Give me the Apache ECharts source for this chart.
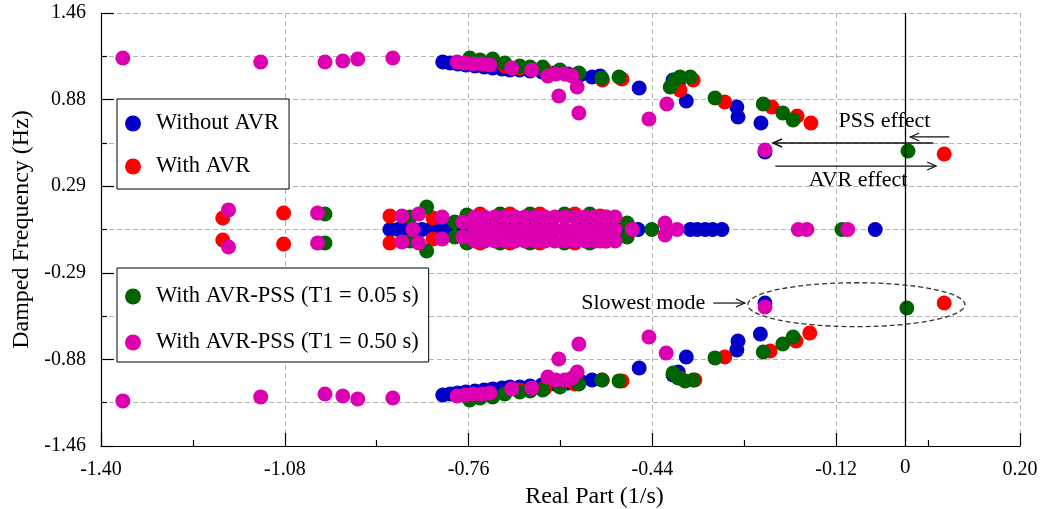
<!DOCTYPE html>
<html>
<head>
<meta charset="utf-8">
<script src="https://cdn.jsdelivr.net/npm/echarts@6/dist/echarts.min.js"></script>
<style>
  html, body { margin: 0; padding: 0; background: #fff; }
  #chart { width: 1043px; height: 509px; }
</style>
</head>
<body>
<div id="chart"></div>
<script>
// Eigenvalues: [real part (1/s), damped frequency (Hz)]

// Without AVR
const noAvrUpper = [
  [-0.805,1.130],[-0.792,1.123],[-0.779,1.116],[-0.765,1.109],[-0.749,1.103],[-0.733,1.096],
  [-0.718,1.089],[-0.702,1.082],[-0.688,1.076],[-0.671,1.076],[-0.653,1.069],[-0.632,1.062],
  [-0.610,1.055],[-0.587,1.049],[-0.566,1.042],[-0.545,1.028],[-0.531,1.035],[-0.463,0.954],
  [-0.404,1.008],[-0.395,0.981],[-0.381,0.867],[-0.293,0.826],[-0.291,0.759],[-0.251,0.718],
  [-0.244,0.523]
];
const noAvrReal = [
  [-0.897,0],[-0.883,0],[-0.869,0],[-0.855,0],[-0.841,0],[-0.827,0],[-0.813,0],[-0.798,0],
  [-0.784,0],[-0.770,0],[-0.758,0],[-0.740,0],[-0.723,0],[-0.705,0],[-0.688,0],[-0.671,0],
  [-0.653,0],[-0.636,0],[-0.615,0],[-0.593,0],[-0.570,0],[-0.549,0],[-0.531,0],[-0.514,0],
  [-0.497,0],[-0.465,0],[-0.374,0],[-0.362,0],[-0.348,0],[-0.335,0],[-0.319,0],[-0.052,0]
];
const noAvrLower = [
  [-0.805,-1.116],[-0.792,-1.109],[-0.779,-1.102],[-0.765,-1.096],[-0.749,-1.089],[-0.733,-1.082],
  [-0.718,-1.075],[-0.702,-1.069],[-0.688,-1.062],[-0.671,-1.062],[-0.653,-1.055],[-0.632,-1.048],
  [-0.610,-1.042],[-0.587,-1.035],[-0.566,-1.021],[-0.545,-1.015],[-0.463,-0.934],[-0.404,-0.981],
  [-0.395,-0.961],[-0.381,-0.860],[-0.293,-0.812],[-0.291,-0.752],[-0.252,-0.705],[-0.244,-0.496]
];

// With AVR
const avrUpper = [
  [-0.723,1.116],[-0.697,1.103],[-0.671,1.089],[-0.627,1.076],[-0.575,1.042],[-0.527,1.008],
  [-0.493,1.015],[-0.392,0.941],[-0.369,1.008],[-0.314,0.860],[-0.232,0.826],[-0.188,0.765],
  [-0.164,0.718],[0.068,0.509]
];
const avrReal = [
  [-1.188,0.078],[-1.188,-0.071],[-1.082,0.111],[-1.082,-0.098],[-0.897,0.091],[-0.897,-0.091],
  [-0.822,0.078],[-0.822,-0.064],[-0.740,0.105],[-0.740,-0.091],[-0.688,0.105],[-0.688,-0.091],
  [-0.636,0.105],[-0.636,-0.091],[-0.575,0.105],[-0.575,-0.091],[-0.531,0.091],[-0.531,-0.078]
];
const avrLower = [
  [-0.671,-1.082],[-0.627,-1.069],[-0.575,-1.042],[-0.527,-1.015],[-0.493,-1.021],[-0.392,-1.001],
  [-0.366,-1.015],[-0.314,-0.860],[-0.235,-0.819],[-0.190,-0.752],[-0.166,-0.698],[0.068,-0.496]
];

// With AVR-PSS, T1 = 0.05 s
const pss005Upper = [
  [-0.758,1.157],[-0.740,1.143],[-0.718,1.150],[-0.697,1.123],[-0.671,1.103],[-0.653,1.096],
  [-0.631,1.096],[-0.601,1.076],[-0.568,1.055],[-0.528,1.022],[-0.498,1.028],[-0.409,0.961],
  [-0.401,1.008],[-0.392,1.028],[-0.374,1.028],[-0.331,0.887],[-0.247,0.846],[-0.213,0.786],
  [-0.195,0.738],[0.005,0.529]
];
const pss005Real = [
  [-1.010,0.105],[-1.010,-0.091],[-0.862,0.084],[-0.862,-0.078],[-0.833,0.152],[-0.833,-0.145],
  [-0.784,0.051],[-0.784,-0.051],[-0.763,0.098],[-0.763,-0.091],[-0.705,0.105],[-0.705,-0.091],
  [-0.653,0.105],[-0.653,-0.091],[-0.593,0.105],[-0.593,-0.091],[-0.549,0.105],[-0.549,-0.091],
  [-0.520,0.084],[-0.520,-0.078],[-0.484,0.044],[-0.484,-0.051],[-0.441,0],[-0.110,0]
];
const pss005Lower = [
  [-0.758,-1.150],[-0.740,-1.136],[-0.718,-1.129],[-0.697,-1.109],[-0.671,-1.096],[-0.653,-1.089],
  [-0.631,-1.082],[-0.601,-1.062],[-0.568,-1.042],[-0.528,-1.015],[-0.498,-1.021],[-0.404,-0.968],
  [-0.395,-1.001],[-0.383,-1.021],[-0.369,-1.015],[-0.331,-0.866],[-0.247,-0.826],[-0.213,-0.772],
  [-0.195,-0.725],[0.003,-0.529]
];

// With AVR-PSS, T1 = 0.50 s
const pss050Upper = [
  [-1.362,1.157],[-1.122,1.130],[-1.010,1.130],[-0.979,1.136],[-0.953,1.150],[-0.892,1.157],
  [-0.780,1.130],[-0.766,1.123],[-0.752,1.116],[-0.737,1.116],[-0.723,1.109],[-0.685,1.089],
  [-0.650,1.076],[-0.622,1.035],[-0.608,1.049],[-0.593,1.049],[-0.580,1.035],[-0.571,0.961],
  [-0.603,0.900],[-0.568,0.786],[-0.446,0.745],[-0.415,0.846],[-0.244,0.536]
];
const pss050Real = [
  [-1.178,0.132],[-1.178,-0.118],[-1.023,0.111],[-1.023,-0.091],[-0.876,0.091],[-0.876,-0.084],
  [-0.847,0.105],[-0.847,-0.091],[-0.857,0],[-0.806,0.084],[-0.806,-0.064],[-0.770,0.051],
  [-0.770,-0.051],
  [-0.749,0.084],[-0.749,0],[-0.749,-0.078],[-0.732,0.084],[-0.732,0],[-0.732,-0.078],
  [-0.714,0.084],[-0.714,0],[-0.714,-0.078],[-0.697,0.084],[-0.697,0],[-0.697,-0.078],
  [-0.679,0.084],[-0.679,0],[-0.679,-0.078],[-0.662,0.084],[-0.662,0],[-0.662,-0.078],
  [-0.644,0.084],[-0.644,0],[-0.644,-0.078],[-0.627,0.084],[-0.627,0],[-0.627,-0.078],
  [-0.610,0.084],[-0.610,0],[-0.610,-0.078],[-0.592,0.084],[-0.592,0],[-0.592,-0.078],
  [-0.575,0.084],[-0.575,0],[-0.575,-0.078],[-0.557,0.084],[-0.557,0],[-0.557,-0.078],
  [-0.540,0.084],[-0.540,0],[-0.540,-0.078],[-0.522,0.084],[-0.522,0],[-0.522,-0.078],
  [-0.505,0.084],[-0.505,0],[-0.505,-0.078],
  [-0.475,0],[-0.418,0.044],[-0.418,-0.037],[-0.397,0],[-0.186,0],[-0.171,0],[-0.100,0]
];
const pss050Lower = [
  [-1.362,-1.156],[-1.122,-1.129],[-1.010,-1.109],[-0.979,-1.123],[-0.953,-1.143],[-0.892,-1.136],
  [-0.780,-1.123],[-0.766,-1.116],[-0.752,-1.109],[-0.737,-1.109],[-0.723,-1.102],[-0.685,-1.075],
  [-0.650,-1.069],[-0.622,-0.995],[-0.608,-1.015],[-0.593,-1.015],[-0.580,-1.001],[-0.571,-0.961],
  [-0.603,-0.873],[-0.568,-0.772],[-0.446,-0.725],[-0.416,-0.833],[-0.244,-0.523]
];

const seriesNames = ['Without AVR', 'With AVR', 'With AVR-PSS (T1 = 0.05 s)', 'With AVR-PSS (T1 = 0.50 s)'];
const seriesColors = ['#0000c8', '#ff0000', '#006400', '#dc00b0'];
const seriesData = [
  noAvrUpper.concat(noAvrReal, noAvrLower),
  avrUpper.concat(avrReal, avrLower),
  pss005Upper.concat(pss005Real, pss005Lower),
  pss050Upper.concat(pss050Real, pss050Lower)
];

// Axis ranges and tick spacing
const xRange = [-1.40, 0.20], xStep = 0.32;
const yRange = [-1.46, 1.46], yStep = 0.584;

// Annotations in data coordinates
const pssArrowShort = [[0.077, 0.624], [0.009, 0.624]];
const pssArrowLong = [[0.049, 0.583], [-0.230, 0.583]];
const avrArrow = [[-0.226, 0.428], [0.054, 0.428]];
const slowArrow = [[-0.334, -0.496], [-0.279, -0.496]];
const slowEllipse = { center: [-0.085, -0.507], radius: [0.189, 0.148] };
const notes = [
  { text: 'PSS effect', at: [-0.036, 0.728] },
  { text: 'AVR effect', at: [-0.082, 0.334] },
  { text: 'Slowest mode', at: [-0.456, -0.496] }
];

const serif = '"Liberation Serif", "Times New Roman", serif';
const gridDash = { type: [5, 3], color: '#b4b4b4', width: 1 };
const black = { color: '#000', width: 1.2 };

const chart = echarts.init(document.getElementById('chart'));

const legendCommon = {
  orient: 'vertical',
  left: 117,
  backgroundColor: '#fff',
  borderColor: '#000',
  borderWidth: 1,
  borderRadius: 0,
  padding: [13, 10, 11, 8],
  itemWidth: 16,
  itemHeight: 16,
  itemGap: 20,
  icon: 'circle',
  selectedMode: false,
  textStyle: { fontFamily: serif, fontSize: 22.5, color: '#000', padding: [0, 0, 0, 10] }
};

chart.setOption({
  animation: false,
  grid: { left: 101, right: 23, top: 13, bottom: 63, outerBoundsMode: 'none' },
  xAxis: {
    type: 'value', min: xRange[0], max: xRange[1], interval: xStep,
    name: 'Real Part (1/s)', nameLocation: 'middle', nameGap: 35,
    nameTextStyle: { fontFamily: serif, fontSize: 24, color: '#000', padding: [0, 0, 0, 68] },
    axisLine: { onZero: false, lineStyle: black },
    axisTick: { inside: true, length: 13, lineStyle: black },
    minorTick: { show: true, splitNumber: 2, length: 6, lineStyle: black },
    axisLabel: { fontFamily: serif, fontSize: 20, color: '#000', margin: 14, formatter: v => v.toFixed(2) },
    splitLine: { show: true, lineStyle: gridDash },
    minorSplitLine: { show: false }
  },
  yAxis: {
    type: 'value', min: yRange[0], max: yRange[1], interval: yStep,
    name: 'Damped Frequency (Hz)', nameLocation: 'middle', nameGap: 66,
    nameTextStyle: { fontFamily: serif, fontSize: 24, color: '#000' },
    axisLine: { onZero: false, lineStyle: black },
    axisTick: { inside: true, length: 13, lineStyle: black },
    minorTick: { show: true, splitNumber: 2, length: 6, lineStyle: black },
    axisLabel: { fontFamily: serif, fontSize: 20, color: '#000', margin: 15, formatter: v => v.toFixed(2) },
    splitLine: { show: true, lineStyle: gridDash },
    minorSplitLine: { show: true, lineStyle: gridDash }
  },
  legend: [
    Object.assign({}, legendCommon, { top: 99, data: seriesNames.slice(0, 2) }),
    Object.assign({}, legendCommon, { top: 268, itemGap: 23, padding: [17, 10, 8, 8], data: seriesNames.slice(2, 4) })
  ],
  series: seriesNames.map((name, i) => ({
    type: 'scatter',
    name: name,
    data: seriesData[i],
    symbol: 'circle',
    symbolSize: 15,
    itemStyle: { color: seriesColors[i], opacity: 1 },
    emphasis: { disabled: true },
    silent: true,
    markLine: i === 0 ? {
      silent: true,
      symbol: 'none',
      lineStyle: { color: '#000', width: 1.3, type: 'solid' },
      label: { show: true, position: 'start', formatter: '0', distance: 11,
               fontFamily: serif, fontSize: 21, color: '#000' },
      data: [{ xAxis: 0 }]
    } : undefined
  }))
});

// Annotation overlay, placed through the grid's coordinate system
const toPx = p => chart.convertToPixel({ gridIndex: 0 }, p);

function arrow(from, to, width) {
  const a = toPx(from), b = toPx(to);
  const ang = Math.atan2(b[1] - a[1], b[0] - a[0]);
  const len = 9, half = 4;
  const bx = b[0] - len * Math.cos(ang), by = b[1] - len * Math.sin(ang);
  const head = [
    [bx + half * Math.sin(ang), by - half * Math.cos(ang)],
    [b[0], b[1]],
    [bx - half * Math.sin(ang), by + half * Math.cos(ang)]
  ];
  return [
    { type: 'line', z: 20, shape: { x1: a[0], y1: a[1], x2: b[0], y2: b[1] },
      style: { stroke: '#111', lineWidth: width } },
    { type: 'polyline', z: 20, shape: { points: head },
      style: { stroke: '#111', lineWidth: width, fill: null } }
  ];
}

const c = toPx(slowEllipse.center);
const edge = toPx([slowEllipse.center[0] + slowEllipse.radius[0], slowEllipse.center[1] + slowEllipse.radius[1]]);

const graphics = []
  .concat(arrow(pssArrowShort[0], pssArrowShort[1], 1.2))
  .concat(arrow(pssArrowLong[0], pssArrowLong[1], 1.5))
  .concat(arrow(avrArrow[0], avrArrow[1], 1.2))
  .concat(arrow(slowArrow[0], slowArrow[1], 1.2))
  .concat([{
    type: 'ellipse', z: 20,
    shape: { cx: c[0], cy: c[1], rx: Math.abs(edge[0] - c[0]), ry: Math.abs(edge[1] - c[1]) },
    style: { fill: null, stroke: '#333', lineWidth: 1.3, lineDash: [5, 3] }
  }])
  .concat(notes.map(n => {
    const p = toPx(n.at);
    return { type: 'text', z: 20, x: p[0], y: p[1],
      style: { text: n.text, fontFamily: serif, fontSize: 22, fill: '#000',
               align: 'center', verticalAlign: 'middle' } };
  }));

chart.setOption({ graphic: { elements: graphics } });
</script>
</body>
</html>
